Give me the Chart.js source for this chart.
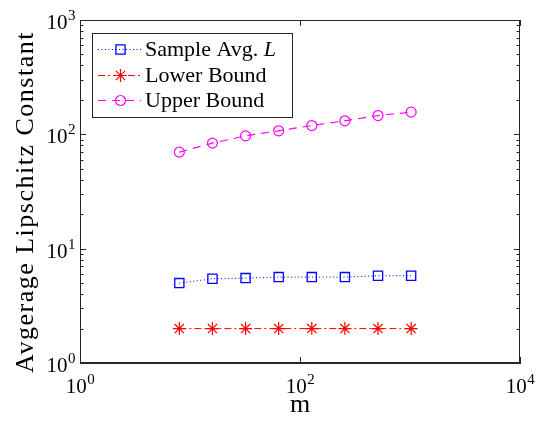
<!DOCTYPE html>
<html>
<head>
<meta charset="utf-8">
<script src="https://cdn.jsdelivr.net/npm/chart.js@4/dist/chart.umd.min.js"></script>
<style>
  html, body { margin: 0; padding: 0; background: #fff; }
  #wrap { width: 543px; height: 427px; }
</style>
</head>
<body>
<div id="wrap"><canvas id="chart" width="543" height="427"></canvas></div>
<script>
// datos
const mVals = [8, 16, 32, 64, 128, 256, 512, 1024];
const sampleAvg = [5.0, 5.46, 5.53, 5.64, 5.64, 5.64, 5.8, 5.8];
const lowerBound = [2, 2, 2, 2, 2, 2, 2, 2];
const upperBound = [69.9, 83.8, 97, 107.4, 119.4, 131.3, 146, 156.4];

const xTicks = [1, 100, 10000];
const yTicks = [1, 10, 100, 1000];
const seriesNames = ['Sample Avg. ', 'Lower Bound', 'Upper Bound'];
const xTitle = 'm';
const yTitle = 'Avgerage Lipschitz Constant';

const FONT = "'Liberation Serif', 'Times New Roman', serif";
const AXIS = '#262626';

const pts = ys => mVals.map((m, i) => ({ x: m, y: ys[i] }));

// etiqueta 10^n con superindice
function drawPow(ctx, v, x, y, align) {
  const e = String(Math.round(Math.log10(v)));
  ctx.font = '21px ' + FONT;
  const wb = ctx.measureText('10').width;
  ctx.font = '15px ' + FONT;
  const we = ctx.measureText(e).width;
  const total = wb + we;
  const x0 = align === 'right' ? x - total : x - total / 2;
  ctx.textAlign = 'left';
  ctx.textBaseline = 'alphabetic';
  ctx.font = '21px ' + FONT;
  ctx.fillText('10', x0, y);
  ctx.font = '15px ' + FONT;
  ctx.fillText(e, x0 + wb + 0.5, y - 9);
}

// ejes tipo MATLAB: caja, ticks hacia adentro, leyenda y textos propios
const boxPlugin = {
  id: 'boxTicks',
  afterDraw(chart) {
    const { ctx, chartArea: a, scales } = chart;
    const xs = scales.x, ys = scales.y;
    ctx.save();
    ctx.strokeStyle = AXIS;
    ctx.lineWidth = 1;
    ctx.strokeRect(a.left + 0.5, a.top + 0.5, a.right - a.left - 1, a.bottom - a.top - 1);
    ctx.beginPath();
    for (let d = 0; d < 3; d++) {
      for (let k = 1; k <= 10; k++) {
        const v = Math.pow(10, d) * k;
        const y = Math.round(ys.getPixelForValue(v)) + 0.5;
        const len = (k === 1 || k === 10) ? 6 : 3.5;
        ctx.moveTo(a.left, y); ctx.lineTo(a.left + len, y);
        ctx.moveTo(a.right, y); ctx.lineTo(a.right - len, y);
      }
    }
    xTicks.forEach(v => {
      const x = Math.round(xs.getPixelForValue(v)) + 0.5;
      ctx.moveTo(x, a.bottom); ctx.lineTo(x, a.bottom - 6);
      ctx.moveTo(x, a.top); ctx.lineTo(x, a.top + 6);
    });
    ctx.stroke();

    // etiquetas de ticks
    ctx.fillStyle = '#000';
    yTicks.forEach(v => drawPow(ctx, v, a.left - 5, ys.getPixelForValue(v) + 9, 'right'));
    xTicks.forEach(v => drawPow(ctx, v, xs.getPixelForValue(v), a.bottom + 30, 'center'));

    // titulos de ejes
    ctx.textBaseline = 'alphabetic';
    ctx.textAlign = 'center';
    ctx.font = '26px ' + FONT;
    ctx.fillText(xTitle, (a.left + a.right) / 2, 412);
    ctx.save();
    ctx.translate(33, 202);
    ctx.rotate(-Math.PI / 2);
    ctx.font = '26px ' + FONT;
    ctx.letterSpacing = '1.5px';
    ctx.fillText(yTitle, 0, 0);
    ctx.restore();

    // leyenda
    const bx = 92, by = 33, bw = 200, bh = 84;
    ctx.fillStyle = '#fff';
    ctx.fillRect(bx, by, bw, bh);
    ctx.strokeRect(bx + 0.5, by + 0.5, bw, bh);
    const rows = [49, 75, 100];
    chart.data.datasets.forEach((ds, i) => {
      const y = rows[i];
      ctx.save();
      ctx.strokeStyle = ds.borderColor;
      ctx.fillStyle = 'rgba(0,0,0,0)';
      ctx.lineWidth = 1;
      ctx.setLineDash(ds.borderDash);
      ctx.beginPath();
      ctx.moveTo(98, y + 0.5); ctx.lineTo(141, y + 0.5);
      ctx.stroke();
      ctx.setLineDash([]);
      ctx.lineWidth = ds.pointBorderWidth;
      Chart.helpers.drawPoint(ctx, {
        pointStyle: ds.pointStyle, radius: ds.pointRadius, borderWidth: ds.pointBorderWidth
      }, 120.5, y + 0.5);
      ctx.restore();
      ctx.fillStyle = '#000';
      ctx.textAlign = 'left';
      ctx.textBaseline = 'alphabetic';
      ctx.font = '22px ' + FONT;
      const base = y + 7;
      ctx.fillText(seriesNames[i], 145, base);
      if (i === 0) {
        const w = ctx.measureText(seriesNames[i]).width;
        ctx.font = 'italic 22px ' + FONT;
        ctx.fillText('L', 145 + w, base);
      }
    });
    ctx.restore();
  }
};

const ctx = document.getElementById('chart').getContext('2d');
new Chart(ctx, {
  type: 'line',
  data: {
    datasets: [
      {
        data: pts(sampleAvg),
        borderColor: '#0000ff', backgroundColor: 'rgba(0,0,0,0)',
        borderWidth: 1, borderDash: [1, 2.5],
        pointStyle: 'rect', pointRadius: 6.5, pointBorderWidth: 1.3,
        pointBorderColor: '#0000ff', pointBackgroundColor: 'rgba(0,0,0,0)'
      },
      {
        data: pts(lowerBound),
        borderColor: '#ff0000', backgroundColor: 'rgba(0,0,0,0)',
        borderWidth: 1, borderDash: [7, 3, 2, 3],
        pointStyle: 'star', pointRadius: 6.5, pointBorderWidth: 1.2,
        pointBorderColor: '#ff0000', pointBackgroundColor: 'rgba(0,0,0,0)'
      },
      {
        data: pts(upperBound),
        borderColor: '#ff00ff', backgroundColor: 'rgba(0,0,0,0)',
        borderWidth: 1.2, borderDash: [8, 6],
        pointStyle: 'circle', pointRadius: 5, pointBorderWidth: 1.2,
        pointBorderColor: '#ff00ff', pointBackgroundColor: 'rgba(0,0,0,0)'
      }
    ]
  },
  options: {
    responsive: false,
    animation: false,
    layout: { padding: { left: 0, top: 20, right: 23, bottom: 0 } },
    plugins: { legend: { display: false }, tooltip: { enabled: false } },
    elements: { line: { tension: 0 } },
    scales: {
      x: {
        type: 'logarithmic', min: 1, max: 10000,
        afterBuildTicks: s => { s.ticks = xTicks.map(v => ({ value: v })); },
        afterFit: s => { s.height = 64; },
        grid: { display: false },
        border: { display: true, color: AXIS },
        ticks: { display: false }
      },
      y: {
        type: 'logarithmic', min: 1, max: 1000,
        afterBuildTicks: s => { s.ticks = yTicks.map(v => ({ value: v })); },
        afterFit: s => { s.width = 80; },
        grid: { display: false },
        border: { display: true, color: AXIS },
        ticks: { display: false }
      }
    }
  },
  plugins: [boxPlugin]
});
</script>
</body>
</html>
